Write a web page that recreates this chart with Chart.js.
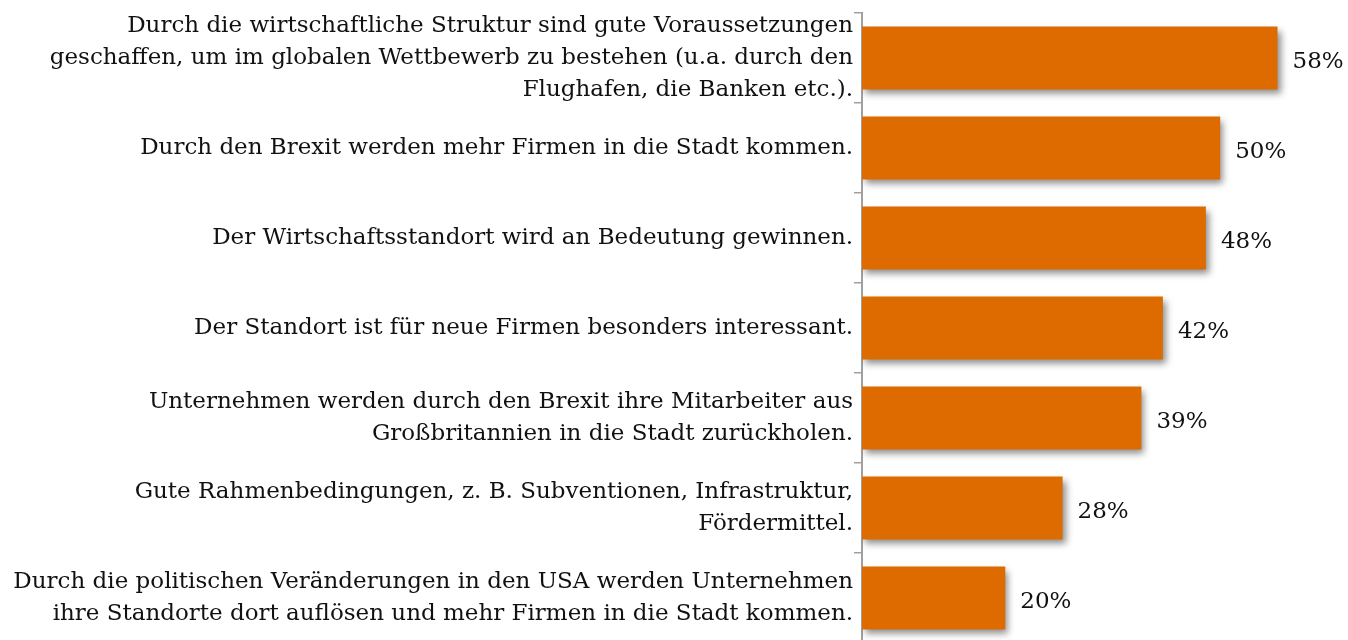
<!DOCTYPE html>
<html>
<head>
<meta charset="utf-8">
<script src="https://cdn.jsdelivr.net/npm/chart.js@4.4.0/dist/chart.umd.min.js"></script>
<style>
  html, body { margin: 0; padding: 0; background: #fff; overflow: hidden; }
  #wrap { width: 1348px; height: 646px; }
</style>
</head>
<body>
<div id="wrap"><canvas id="myChart"></canvas></div>
<script>
// Daten
const labels = [
    ['Durch die wirtschaftliche Struktur sind gute Voraussetzungen',
     'geschaffen, um im globalen Wettbewerb zu bestehen (u.a. durch den',
     'Flughafen, die Banken etc.).'],
    'Durch den Brexit werden mehr Firmen in die Stadt kommen.',
    'Der Wirtschaftsstandort wird an Bedeutung gewinnen.',
    'Der Standort ist für neue Firmen besonders interessant.',
    ['Unternehmen werden durch den Brexit ihre Mitarbeiter aus',
     'Großbritannien in die Stadt zurückholen.'],
    ['Gute Rahmenbedingungen, z. B. Subventionen, Infrastruktur,',
     'Fördermittel.'],
    ['Durch die politischen Veränderungen in den USA werden Unternehmen',
     'ihre Standorte dort auflösen und mehr Firmen in die Stadt kommen.']
];
const values = [58, 50, 48, 42, 39, 28, 20];
const valueLabels = ['58%', '50%', '48%', '42%', '39%', '28%', '20%'];

const FONT = '"DejaVu Serif", "Liberation Serif", serif';

// Schatten hinter den Balken
const shadowPlugin = {
    id: 'barShadow',
    beforeDatasetsDraw(chart) {
        const c = chart.ctx;
        c.save();
        c.shadowColor = 'rgba(0,0,0,0.45)';
        c.shadowBlur = 7;
        c.shadowOffsetX = 3;
        c.shadowOffsetY = 4;
    },
    afterDatasetsDraw(chart) {
        chart.ctx.restore();
    }
};

// Prozentwerte rechts neben den Balken
const valuePlugin = {
    id: 'valueLabels',
    afterDatasetsDraw(chart) {
        const c = chart.ctx;
        const meta = chart.getDatasetMeta(0);
        c.save();
        c.font = '23px ' + FONT;
        c.fillStyle = '#111';
        c.textAlign = 'left';
        c.textBaseline = 'middle';
        meta.data.forEach(function (bar, i) {
            c.fillText(valueLabels[i], bar.x + 15, bar.y + 4);
        });
        c.restore();
    }
};

const ctx = document.getElementById('myChart');
let chart = new Chart(ctx, {
    type: 'bar',
    data: {
        labels: labels,
        datasets: [{
            data: values,
            backgroundColor: '#dd6b00',
            borderWidth: 0,
            barPercentage: 0.7,
            categoryPercentage: 1
        }]
    },
    options: {
        indexAxis: 'y',
        responsive: true,
        maintainAspectRatio: false,
        animation: false,
        layout: { padding: { top: 13, right: 6, bottom: 3, left: 0 } },
        plugins: {
            legend: { display: false },
            tooltip: { enabled: false }
        },
        scales: {
            x: {
                display: false,
                min: 0,
                max: 67
            },
            y: {
                afterFit: function (scale) {
                    scale.width = 862;
                    scale.paddingTop = 0;
                    scale.paddingBottom = 0;
                },
                grid: {
                    offset: true,
                    drawOnChartArea: false,
                    tickLength: 8,
                    color: '#a0a0a0',
                    lineWidth: 1.5
                },
                border: { color: '#a0a0a0', width: 2 },
                ticks: {
                    autoSkip: false,
                    color: '#111',
                    padding: 1,
                    font: { family: FONT, size: 23, lineHeight: 1.4 }
                }
            }
        }
    },
    plugins: [shadowPlugin, valuePlugin]
});
</script>
</body>
</html>
